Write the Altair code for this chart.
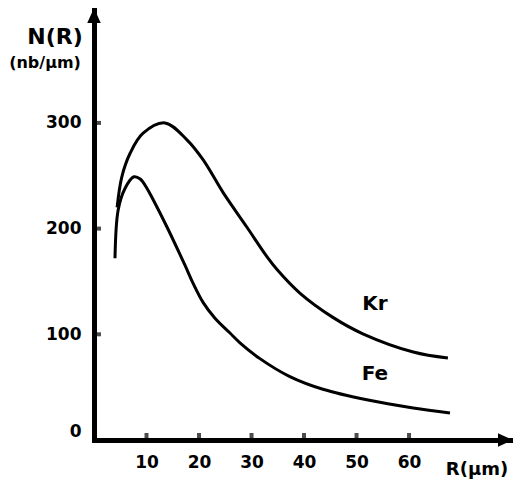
import altair as alt
import pandas as pd

# ---- data ----
kr_r = [4.4, 5.3, 6.9, 9.3, 13.5, 17.7, 20.8, 24.6, 29.1, 33.0, 34.9, 39.2, 45.5, 51.2, 60.8, 67.4]
kr_n = [220, 249, 271.5, 290, 300, 284, 265, 234, 201.5, 173, 161, 139, 116, 100.5, 83.3, 77.6]
fe_r = [4.0, 4.6, 5.9, 7.6, 8.8, 10.1, 11.2, 13.9, 17.3, 18.9, 20.8, 23.0, 25.9, 27.8, 31.6, 37.3, 43.6, 52.2, 60.8, 67.8]
fe_n = [172, 217.6, 238, 249, 247, 238, 228, 201.5, 165.6, 148, 130, 115.5, 101.2, 92, 77, 60, 48, 37.8, 30.3, 25.5]

x_ticks = [10, 20, 30, 40, 50, 60]
y_ticks = [0, 100, 200, 300]

series_names = ["Kr", "Fe"]
series_label_r = [53.5, 53.5]
series_label_n = [128.7, 62.4]

y_title_lines = ["N(R)", "(nb/μm)"]
x_title = "R(μm)"

X_MAX = 79.8
Y_MAX = 408.7

FONT = "DejaVu Sans"

curves = pd.DataFrame({
    "R": kr_r + fe_r,
    "N": kr_n + fe_n,
    "series": ["Kr"] * len(kr_r) + ["Fe"] * len(fe_r),
})

xs = alt.Scale(domain=[0, X_MAX], nice=False, zero=False)
ys = alt.Scale(domain=[0, Y_MAX], nice=False, zero=False)

x_axis = alt.Axis(values=x_ticks, title=None, grid=False, ticks=False,
                  domainWidth=5, domainColor="black", domainCap="square",
                  labelFont=FONT, labelFontWeight="bold", labelFontSize=17,
                  labelColor="black", labelPadding=14)
y_axis = alt.Axis(values=y_ticks, title=None, grid=False, ticks=False,
                  domainWidth=5, domainColor="black", domainCap="square",
                  labelFont=FONT, labelFontWeight="bold", labelFontSize=17,
                  labelColor="black", labelPadding=13, labelFlush=True)

lines = alt.Chart(curves).mark_line(
    interpolate="catmull-rom", strokeWidth=3, color="black"
).encode(
    x=alt.X("R:Q", scale=xs, axis=x_axis),
    y=alt.Y("N:Q", scale=ys, axis=y_axis),
    detail="series:N",
)

# small inward tick bumps
xt = alt.Chart(pd.DataFrame({"R": x_ticks, "N": [0] * len(x_ticks)})).mark_tick(
    orient="vertical", size=8, thickness=4, color="black", yOffset=-3
).encode(x=alt.X("R:Q", scale=xs), y=alt.Y("N:Q", scale=ys))

yt = alt.Chart(pd.DataFrame({"R": [0] * len(y_ticks), "N": y_ticks})).mark_tick(
    orient="horizontal", size=8, thickness=4, color="black", xOffset=3
).encode(x=alt.X("R:Q", scale=xs), y=alt.Y("N:Q", scale=ys))

# arrow heads at the axis ends
up_arrow = alt.Chart(pd.DataFrame({"R": [0], "N": [Y_MAX]})).mark_point(
    shape="M0,-1L0.9,1L-0.9,1Z", size=225, filled=True, color="black",
    opacity=1, yOffset=7.5
).encode(x=alt.X("R:Q", scale=xs), y=alt.Y("N:Q", scale=ys))

right_arrow = alt.Chart(pd.DataFrame({"R": [X_MAX], "N": [0]})).mark_point(
    shape="M1,0L-1,-0.9L-1,0.9Z", size=225, filled=True, color="black",
    opacity=1, xOffset=-7.5
).encode(x=alt.X("R:Q", scale=xs), y=alt.Y("N:Q", scale=ys))

# series labels
labels = alt.Chart(pd.DataFrame({
    "R": series_label_r, "N": series_label_n, "t": series_names
})).mark_text(font=FONT, fontWeight="bold", fontSize=20, color="black",
              align="center", baseline="middle").encode(
    x=alt.X("R:Q", scale=xs), y=alt.Y("N:Q", scale=ys), text="t:N"
)

# axis titles
t1 = alt.Chart(pd.DataFrame({"t": [y_title_lines[0]]})).mark_text(
    font=FONT, fontWeight="bold", fontSize=22, color="black",
    align="center", baseline="middle"
).encode(text="t:N", x=alt.value(-39), y=alt.value(29))

t2 = alt.Chart(pd.DataFrame({"t": [y_title_lines[1]]})).mark_text(
    font=FONT, fontWeight="bold", fontSize=16, color="black",
    align="center", baseline="middle"
).encode(text="t:N", x=alt.value(-49), y=alt.value(55))

t3 = alt.Chart(pd.DataFrame({"t": [x_title]})).mark_text(
    font=FONT, fontWeight="bold", fontSize=18, color="black",
    align="center", baseline="middle"
).encode(text="t:N", x=alt.value(383), y=alt.value(462))

chart = alt.layer(lines, xt, yt, up_arrow, right_arrow, labels, t1, t2, t3).properties(
    width=419, height=432,
    padding={"left": 86, "top": 0, "right": 0, "bottom": 42},
    autosize=alt.AutoSizeParams(type="none"),
).configure_view(stroke=None)

chart.save("out.html", embed_options={"renderer": "svg", "actions": False})
